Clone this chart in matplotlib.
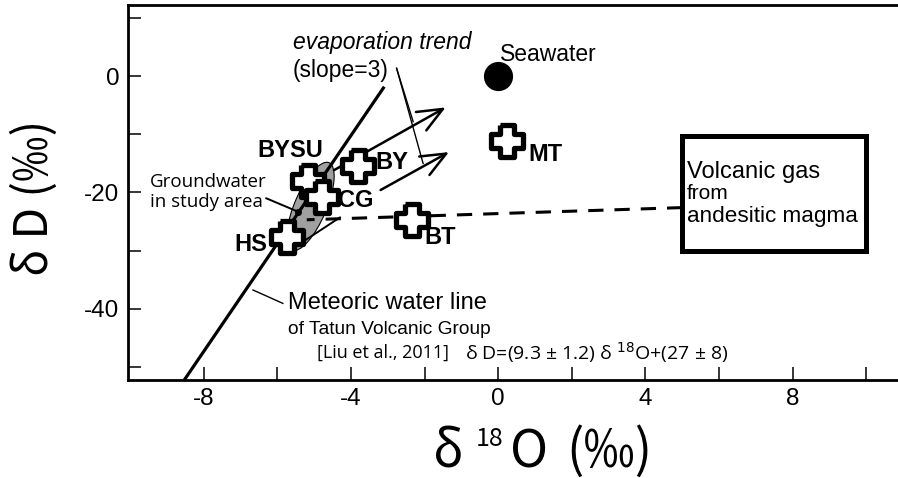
import numpy as np
import matplotlib
matplotlib.use("Agg")
import matplotlib.pyplot as plt
from matplotlib.patches import Ellipse, Rectangle, FancyArrowPatch
from matplotlib.transforms import ScaledTranslation

# sample points (d18O, dD)
site_names = ["BYSU", "CG", "HS", "BY", "BT", "MT"]
site_d18o = [-5.17, -4.80, -5.75, -3.81, -2.35, 0.23]
site_dd = [-18.1, -20.7, -27.6, -15.5, -24.7, -11.2]
# label offsets in data units
label_dx = [-0.47, 0.94, -0.98, 0.91, 0.76, 1.04]
label_dy = [5.3, -0.6, -1.4, 0.6, -3.1, -2.3]

seawater = (0.0, 0.0)

# meteoric water line of Tatun Volcanic Group: dD = 9.3 d18O + 27
mwl_x = [-8.7, -3.12]
mwl_y = [-53.9, -2.0]

# evaporation trend arrows (start, end)
evap_start = [(-4.53, -16.4), (-3.26, -19.8)]
evap_end = [(-1.36, -5.1), (-1.27, -12.8)]

# mixing line towards volcanic gas
mix_x = [5.0, -5.2]
mix_y = [-22.6, -24.7]

# volcanic gas box (x0, y0, x1, y1)
gas_box = (5.0, -30.1, 10.0, -10.2)

# groundwater field
gw_center = (-5.1, -22.4)
gw_dot = (-5.44, -23.3)

xticks = [-8, -6, -4, -2, 0, 2, 4, 6, 8, 10]
yticks = [10, 0, -10, -20, -30, -40, -50]

W, H = 898, 478
fig = plt.figure(figsize=(W / 100, H / 100), dpi=100)
ax = fig.add_axes([127.5 / W, (478 - 380) / H, (898 - 127.5) / W, (380 - 5) / H])
ax.set_xlim(-10.07, 10.86)
ax.set_ylim(-52.3, 12.3)

for s in ["left", "bottom", "top"]:
    ax.spines[s].set_linewidth(2.0)
ax.spines["right"].set_visible(False)

ax.set_xticks(xticks)
ax.set_xticklabels([str(t) if t % 4 == 0 and t != 10 else "" for t in xticks])
ax.set_yticks(yticks)
ax.set_yticklabels([str(t) if t % 20 == 0 and t != 10 else "" for t in yticks])
ax.tick_params(direction="in", length=9.5, width=1.1, labelsize=17.5, pad=6)
for lab in ax.get_xticklabels() + ax.get_yticklabels():
    lab.set_family("Liberation Sans")

# groundwater ellipse (size in inches, placed at data centre)
ell_tr = fig.dpi_scale_trans + ScaledTranslation(gw_center[0], gw_center[1], ax.transData)
ax.add_patch(Ellipse((0, 0), 0.95, 0.32, angle=67, transform=ell_tr,
                     facecolor="#a0a0a0", edgecolor="black", lw=0.8, zorder=2))
ax.plot(*gw_dot, "o", color="black", ms=4, zorder=3)

# meteoric water line
ax.plot(mwl_x, mwl_y, color="black", lw=2.3, zorder=3)

# mixing line
ax.plot(mix_x, mix_y, color="black", lw=2.2, ls=(0, (5, 3.6)), zorder=2)
ax.plot([-4.3, -5.26], [-24.3, -28.3], color="black", lw=1.4, zorder=2)

# evaporation arrows
for (x0, y0), (x1, y1) in zip(evap_start, evap_end):
    ax.add_patch(FancyArrowPatch((x0, y0), (x1, y1), arrowstyle="->,head_length=0.9,head_width=0.38",
                                 mutation_scale=20, lw=1.8, color="black", zorder=3))

# leader lines from slope label
ax.plot([-2.76, -2.31], [1.4, -7.8], color="black", lw=1.0)
ax.plot([-2.76, -2.04], [1.4, -15.0], color="black", lw=1.0)

# volcanic gas box
bx0, by0, bx1, by1 = gas_box
ax.add_patch(Rectangle((bx0, by0), bx1 - bx0, by1 - by0, fill=False, lw=3.6,
                       edgecolor="black", zorder=3))
ax.text(bx0 + 0.12, -16.4, "Volcanic gas", fontsize=17, family="Liberation Sans", va="center")
ax.text(bx0 + 0.12, -20.1, "from", fontsize=15, family="Liberation Sans", va="center")
ax.text(bx0 + 0.12, -24.2, "andesitic magma", fontsize=16.2, family="Liberation Sans", va="center")

# seawater
ax.plot(*seawater, "o", color="black", ms=20, zorder=4)
ax.text(0.05, 3.7, "Seawater", fontsize=16.5, family="Liberation Sans", va="center")

# sample crosses
a, b = 0.22, 0.5
plus = [(-a, b), (a, b), (a, a), (b, a), (b, -a), (a, -a), (a, -b), (-a, -b),
        (-a, -a), (-b, -a), (-b, a), (-a, a), (-a, b)]
ax.plot(site_d18o, site_dd, ls="none", marker=plus, ms=23, mfc="white", mec="black",
        mew=3.8, zorder=5)
for name, x, y, dx, dy in zip(site_names, site_d18o, site_dd, label_dx, label_dy):
    ax.text(x + dx, y + dy, name, fontsize=17, fontweight="bold",
            family="Liberation Sans", ha="center", va="center", zorder=6)

# annotation texts
ax.text(-5.58, 5.8, "evaporation trend", fontsize=16.5, style="italic",
        family="Liberation Sans", va="center")
ax.text(-5.58, 1.1, "(slope=3)", fontsize=16.5, family="Liberation Sans", va="center")

ax.text(-9.47, -18.2, "Groundwater", fontsize=13.5, family="Open Sans", va="center")
ax.text(-9.47, -21.6, "in study area", fontsize=13.5, family="Open Sans", va="center")
ax.plot([-6.3, gw_dot[0]], [-21.0, gw_dot[1]], color="black", lw=1.4, zorder=3)

ax.text(-5.72, -39.0, "Meteoric water line", fontsize=17, family="Liberation Sans", va="center")
ax.plot([-6.66, -5.85], [-36.8, -39.1], color="black", lw=1.0)
ax.text(-5.72, -43.6, "of Tatun Volcanic Group", fontsize=13.8, family="Liberation Sans", va="center")
ax.text(-4.93, -47.6, "[Liu et al., 2011]", fontsize=13, family="Open Sans", va="center")
ax.text(-0.9, -47.6, "δ D=(9.3 ± 1.2) δ $^{18}$O+(27 ± 8)", fontsize=14, family="Open Sans",
        va="center")

# axis labels
jp = "Noto Sans CJK JP"
fig.text(433 / W, 1 - 467 / H, "δ", fontsize=37, family=jp, va="baseline")
fig.text(476 / W, 1 - 446 / H, "18", fontsize=18, family=jp, va="baseline")
fig.text(510 / W, 1 - 467 / H, "O", fontsize=37, family=jp, va="baseline")
fig.text(566 / W, 1 - 467 / H, "(‰)", fontsize=37, family=jp, va="baseline")
fig.text(35 / W, 1 - 198 / H, "δ D (‰)", fontsize=33, family=jp, rotation=90,
         ha="center", va="center")

fig.savefig("out.png", dpi=100)
